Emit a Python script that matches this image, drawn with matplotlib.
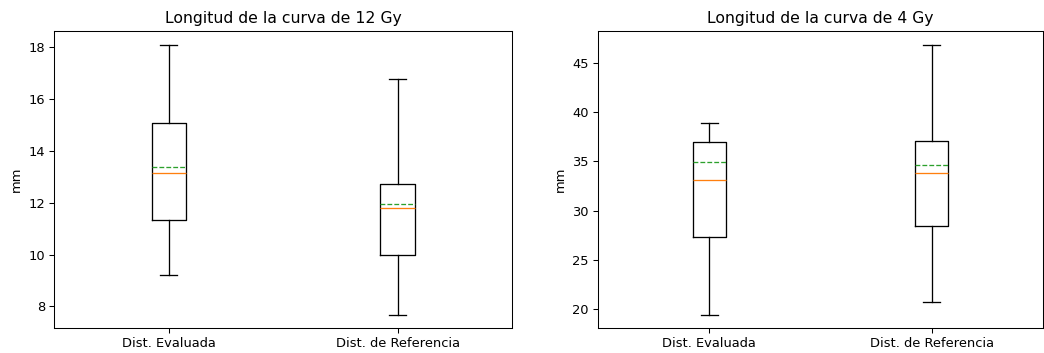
import matplotlib
matplotlib.use("Agg")
import matplotlib.pyplot as plt

# box statistics (mm)
labels = ["Dist. Evaluada", "Dist. de Referencia"]

# 12 Gy
gy12_whislo = [9.21, 7.69]
gy12_q1 = [11.32, 10.00]
gy12_med = [13.15, 11.78]
gy12_mean = [13.37, 11.96]
gy12_q3 = [15.05, 12.73]
gy12_whishi = [18.08, 16.77]

# 4 Gy
gy4_whislo = [19.45, 20.67]
gy4_q1 = [27.32, 28.43]
gy4_med = [33.12, 33.83]
gy4_mean = [34.91, 34.67]
gy4_q3 = [36.96, 37.10]
gy4_whishi = [38.93, 46.85]


def make_stats(whislo, q1, med, mean, q3, whishi):
    stats = []
    for i in range(len(labels)):
        stats.append({
            "label": labels[i],
            "whislo": whislo[i],
            "q1": q1[i],
            "med": med[i],
            "mean": mean[i],
            "q3": q3[i],
            "whishi": whishi[i],
            "fliers": [],
        })
    return stats


dpi = 94
fig = plt.figure(figsize=(1044 / dpi, 353 / dpi), dpi=dpi)
ax1 = fig.add_axes([0.052, 0.0708, 0.4385, 0.841])
ax2 = fig.add_axes([0.5728, 0.0708, 0.4262, 0.841])

ax1.bxp(make_stats(gy12_whislo, gy12_q1, gy12_med, gy12_mean, gy12_q3, gy12_whishi),
        showmeans=True, meanline=True)
ax1.set_title("Longitud de la curva de 12 Gy")
ax1.set_ylabel("mm")

ax2.bxp(make_stats(gy4_whislo, gy4_q1, gy4_med, gy4_mean, gy4_q3, gy4_whishi),
        showmeans=True, meanline=True)
ax2.set_title("Longitud de la curva de 4 Gy")
ax2.set_ylabel("mm")

fig.savefig("out.png", dpi=dpi)
